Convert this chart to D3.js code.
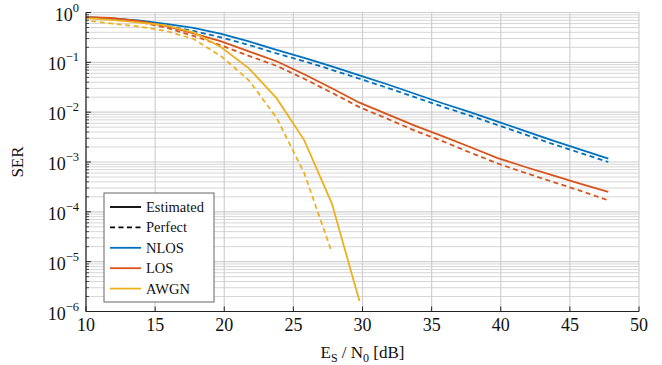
<!DOCTYPE html>
<html>
<head>
<meta charset="utf-8">
<script src="https://cdn.jsdelivr.net/npm/d3@7"></script>
<style>
  body { margin: 0; background: #fff; }
  text { font-family: "Liberation Serif", "DejaVu Serif", serif; fill: #111; }
</style>
</head>
<body>
<div id="chart"></div>
<script>
// Es/N0 sample points [dB]
var esn0 = [9.78, 11.78, 13.78, 15.78, 17.78, 19.78, 21.78, 23.78, 25.78, 27.78,
            29.78, 31.78, 33.78, 35.78, 37.78, 39.78, 41.78, 43.78, 45.78, 47.78];

// SER values
var nlosEst = [0.813, 0.759, 0.692, 0.589, 0.490, 0.372, 0.263, 0.178, 0.123, 0.0832,
               0.0550, 0.0363, 0.0234, 0.0151, 0.0100, 0.00646, 0.00417, 0.00269, 0.00178, 0.00117];
var nlosPerf = [0.813, 0.741, 0.661, 0.537, 0.427, 0.316, 0.224, 0.151, 0.105, 0.0708,
                0.0468, 0.0309, 0.0200, 0.0129, 0.00851, 0.00550, 0.00355, 0.00229, 0.00151, 0.00100];
var losEst = [0.813, 0.776, 0.676, 0.537, 0.380, 0.263, 0.166, 0.105, 0.0575, 0.0302,
              0.0155, 0.00912, 0.00537, 0.00331, 0.00200, 0.00120, 0.000794, 0.000537, 0.000363, 0.000251];
var losPerf = [0.794, 0.741, 0.646, 0.501, 0.339, 0.219, 0.135, 0.0851, 0.0468, 0.0245,
               0.0126, 0.00741, 0.00427, 0.00263, 0.00155, 0.000933, 0.000603, 0.000398, 0.000263, 0.000170];
var awgnEst = [0.776, 0.708, 0.631, 0.550, 0.398, 0.200, 0.0759, 0.0191, 0.00275, 0.000148, 0.00000162];
var awgnPerf = [0.708, 0.603, 0.525, 0.427, 0.295, 0.132, 0.0437, 0.00776, 0.000603, 0.0000155];

var xTicks = [10, 15, 20, 25, 30, 35, 40, 45, 50];
var yExps = [0, -1, -2, -3, -4, -5, -6];
var legendNames = ["Estimated", "Perfect", "NLOS", "LOS", "AWGN"];

var colBlue = "#0072BD", colRed = "#D95319", colYellow = "#EDB120";

var margin = {top: 12.5, right: 23, bottom: 53.5, left: 86},
    width = 662 - margin.left - margin.right,
    height = 365 - margin.top - margin.bottom;

var svg = d3.select("#chart")
    .append("svg")
    .attr("width", 662)
    .attr("height", 365)
    .append("g")
    .attr("transform", "translate(" + margin.left + "," + margin.top + ")");

var x = d3.scaleLinear().domain([10, 50]).range([0, width]);
var y = d3.scaleLog().domain([1e-6, 1]).range([height, 0]);

// minor horizontal grid
var minorVals = [];
yExps.forEach(function(e) {
  if (e === 0) return;
  for (var m = 2; m <= 9; m++) minorVals.push(m * Math.pow(10, e));
});
svg.append("g").selectAll("line")
  .data(minorVals).enter().append("line")
  .attr("x1", 0).attr("x2", width)
  .attr("y1", function(d) { return y(d); })
  .attr("y2", function(d) { return y(d); })
  .attr("stroke", "#d6d6d6").attr("stroke-width", 1);

// major grid
svg.append("g").selectAll("line")
  .data(yExps).enter().append("line")
  .attr("x1", 0).attr("x2", width)
  .attr("y1", function(d) { return y(Math.pow(10, d)); })
  .attr("y2", function(d) { return y(Math.pow(10, d)); })
  .attr("stroke", "#cfcfcf").attr("stroke-width", 1.2);
svg.append("g").selectAll("line")
  .data(xTicks).enter().append("line")
  .attr("y1", 0).attr("y2", height)
  .attr("x1", function(d) { return x(d); })
  .attr("x2", function(d) { return x(d); })
  .attr("stroke", "#cfcfcf").attr("stroke-width", 1.2);

// curves
svg.append("clipPath").attr("id", "clip")
  .append("rect").attr("width", width).attr("height", height);

var line = d3.line()
  .x(function(d) { return x(d[0]); })
  .y(function(d) { return y(d[1]); });

var series = [
  {vals: nlosPerf, color: colBlue, dash: true},
  {vals: losPerf, color: colRed, dash: true},
  {vals: awgnPerf, color: colYellow, dash: true},
  {vals: nlosEst, color: colBlue, dash: false},
  {vals: losEst, color: colRed, dash: false},
  {vals: awgnEst, color: colYellow, dash: false}
];

var curves = svg.append("g").attr("clip-path", "url(#clip)");
series.forEach(function(s) {
  var pts = s.vals.map(function(v, i) { return [esn0[i], v]; });
  curves.append("path")
    .datum(pts)
    .attr("d", line)
    .attr("fill", "none")
    .attr("stroke", s.color)
    .attr("stroke-width", 1.8)
    .attr("stroke-dasharray", s.dash ? "5,3.5" : null);
});

// axes lines
svg.append("line").attr("x1", 0).attr("x2", 0).attr("y1", 0).attr("y2", height)
  .attr("stroke", "#222").attr("stroke-width", 1.2);
svg.append("line").attr("x1", 0).attr("x2", width).attr("y1", height).attr("y2", height)
  .attr("stroke", "#222").attr("stroke-width", 1.2);

// ticks (inside)
svg.append("g").selectAll("line")
  .data(yExps).enter().append("line")
  .attr("x1", 0).attr("x2", 5)
  .attr("y1", function(d) { return y(Math.pow(10, d)); })
  .attr("y2", function(d) { return y(Math.pow(10, d)); })
  .attr("stroke", "#222");
svg.append("g").selectAll("line")
  .data(minorVals).enter().append("line")
  .attr("x1", 0).attr("x2", 3)
  .attr("y1", function(d) { return y(d); })
  .attr("y2", function(d) { return y(d); })
  .attr("stroke", "#222").attr("stroke-width", 0.8);
svg.append("g").selectAll("line")
  .data(xTicks).enter().append("line")
  .attr("y1", height).attr("y2", height - 5)
  .attr("x1", function(d) { return x(d); })
  .attr("x2", function(d) { return x(d); })
  .attr("stroke", "#222");

// tick labels
svg.append("g").selectAll("text")
  .data(xTicks).enter().append("text")
  .attr("x", function(d) { return x(d); })
  .attr("y", height + 19)
  .attr("text-anchor", "middle")
  .attr("font-size", "18px")
  .text(function(d) { return d; });

var yl = svg.append("g").selectAll("text")
  .data(yExps).enter().append("text")
  .attr("x", -7)
  .attr("y", function(d) { return y(Math.pow(10, d)) + 8; })
  .attr("text-anchor", "end")
  .attr("font-size", "18px");
yl.append("tspan").text("10");
yl.append("tspan")
  .attr("dy", -9)
  .attr("font-size", "12.5px")
  .text(function(d) { return d === 0 ? "0" : "\u2212" + (-d); });

// axis titles
svg.append("text")
  .attr("transform", "translate(-63," + (height / 2) + ") rotate(-90)")
  .attr("text-anchor", "middle")
  .attr("font-size", "17px")
  .text("SER");

var xl = svg.append("text")
  .attr("x", width / 2)
  .attr("y", height + 46)
  .attr("text-anchor", "middle")
  .attr("font-size", "17px");
xl.append("tspan").text("E");
xl.append("tspan").attr("font-size", "12px").attr("dy", 4).text("S");
xl.append("tspan").attr("dy", -4).text(" / N");
xl.append("tspan").attr("font-size", "12px").attr("dy", 4).text("0");
xl.append("tspan").attr("dy", -4).text(" [dB]");

// legend
var lg = svg.append("g").attr("transform", "translate(" + (104 - margin.left) + "," + (193 - margin.top) + ")");
lg.append("rect")
  .attr("width", 110).attr("height", 109)
  .attr("fill", "#fff").attr("stroke", "#666").attr("stroke-width", 1);
var legendStyles = [
  {color: "#000", dash: null},
  {color: "#000", dash: "5,3.5"},
  {color: colBlue, dash: null},
  {color: colRed, dash: null},
  {color: colYellow, dash: null}
];
legendNames.forEach(function(name, i) {
  var yy = 14 + i * 20.4;
  lg.append("line")
    .attr("x1", 6).attr("x2", 37)
    .attr("y1", yy).attr("y2", yy)
    .attr("stroke", legendStyles[i].color)
    .attr("stroke-width", 1.8)
    .attr("stroke-dasharray", legendStyles[i].dash);
  lg.append("text")
    .attr("x", 42).attr("y", yy + 5)
    .attr("font-size", "14.5px")
    .text(name);
});
</script>
</body>
</html>
